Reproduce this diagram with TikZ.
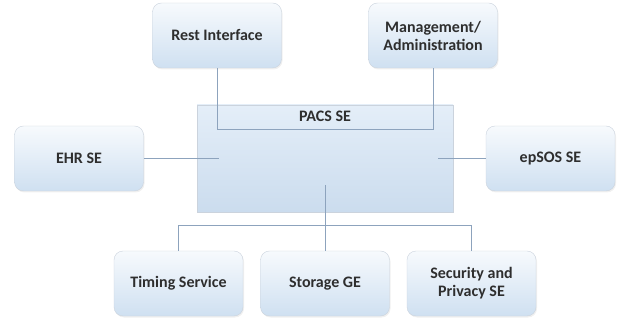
\documentclass[tikz,border=0pt]{standalone}
\usepackage{fontspec}
\setmainfont{Carlito}
\usepackage{tikz}
\usetikzlibrary{positioning}
\usetikzlibrary{shadows}
\definecolor{boxtop}{HTML}{F7FAFD}
\definecolor{boxbottom}{HTML}{CFE0F1}
\definecolor{boxline}{HTML}{CBD3DD}
\definecolor{maintop}{HTML}{E4EEF8}
\definecolor{mainbottom}{HTML}{CBDCEE}
\definecolor{linkcol}{HTML}{8DA3BD}
\definecolor{textcol}{HTML}{2E2E2E}
\newcommand\boxwidth{129pt}
\newcommand\boxheight{65pt}
\tikzset{
    link/.style = {draw=linkcol, line width=0.8pt},
}
\tikzset{
    service/.style={draw=boxline, rounded corners=9pt, top color=boxtop, bottom color=boxbottom,
        minimum width=\boxwidth, minimum height=\boxheight, align=center, font=\bfseries\fontsize{16}{18}\selectfont,
        text=textcol, on grid, drop shadow={opacity=.12, shadow xshift=1pt, shadow yshift=-1.5pt}},
    mainbox/.style={draw=boxline, top color=maintop, bottom color=mainbottom,
        minimum width=256pt, minimum height=107pt, on grid},
}
\begin{document}
\begin{tikzpicture}
    \useasboundingbox (0,0) rectangle (618pt,-320pt);
    \node(pacs)[mainbox, label={[anchor=north, yshift=-3pt, font=\bfseries\fontsize{16}{18}\selectfont, text=textcol]north:PACS SE}] at (325pt,-158.5pt) {};
    \node(rest)[service, above left=123pt and 108pt of pacs]{Rest Interface};
    \node(mgmt)[service, above right=123pt and 108pt of pacs]{Management/\\Administration};
    \node(ehr)[service, left=246pt of pacs]{EHR SE};
    \node(epsos)[service, right=225.5pt of pacs]{epSOS SE};
    \node(storage)[service, below=125pt of pacs]{Storage GE};
    \node(timing)[service, left=146.5pt of storage]{Timing Service};
    \node(security)[service, right=146.5pt of storage]{Security and\\Privacy SE};
    \coordinate(ehrend) at ([xshift=22pt]pacs.west);
    \coordinate(epsosend) at ([xshift=-15pt]pacs.east);
    \coordinate(hub) at ([yshift=-26.5pt]pacs.center);
    \draw[link] (rest.south) |- ([yshift=-25pt]pacs.north) -| (mgmt.south);
    \draw[link] (ehr.east) -- (ehrend);
    \draw[link] (epsos.west) -- (epsosend);
    \draw[link] (hub) -- (storage.north);
    \draw[link] (timing.north) |- ([yshift=25pt]storage.north) -| (security.north);
\end{tikzpicture}
\end{document}
